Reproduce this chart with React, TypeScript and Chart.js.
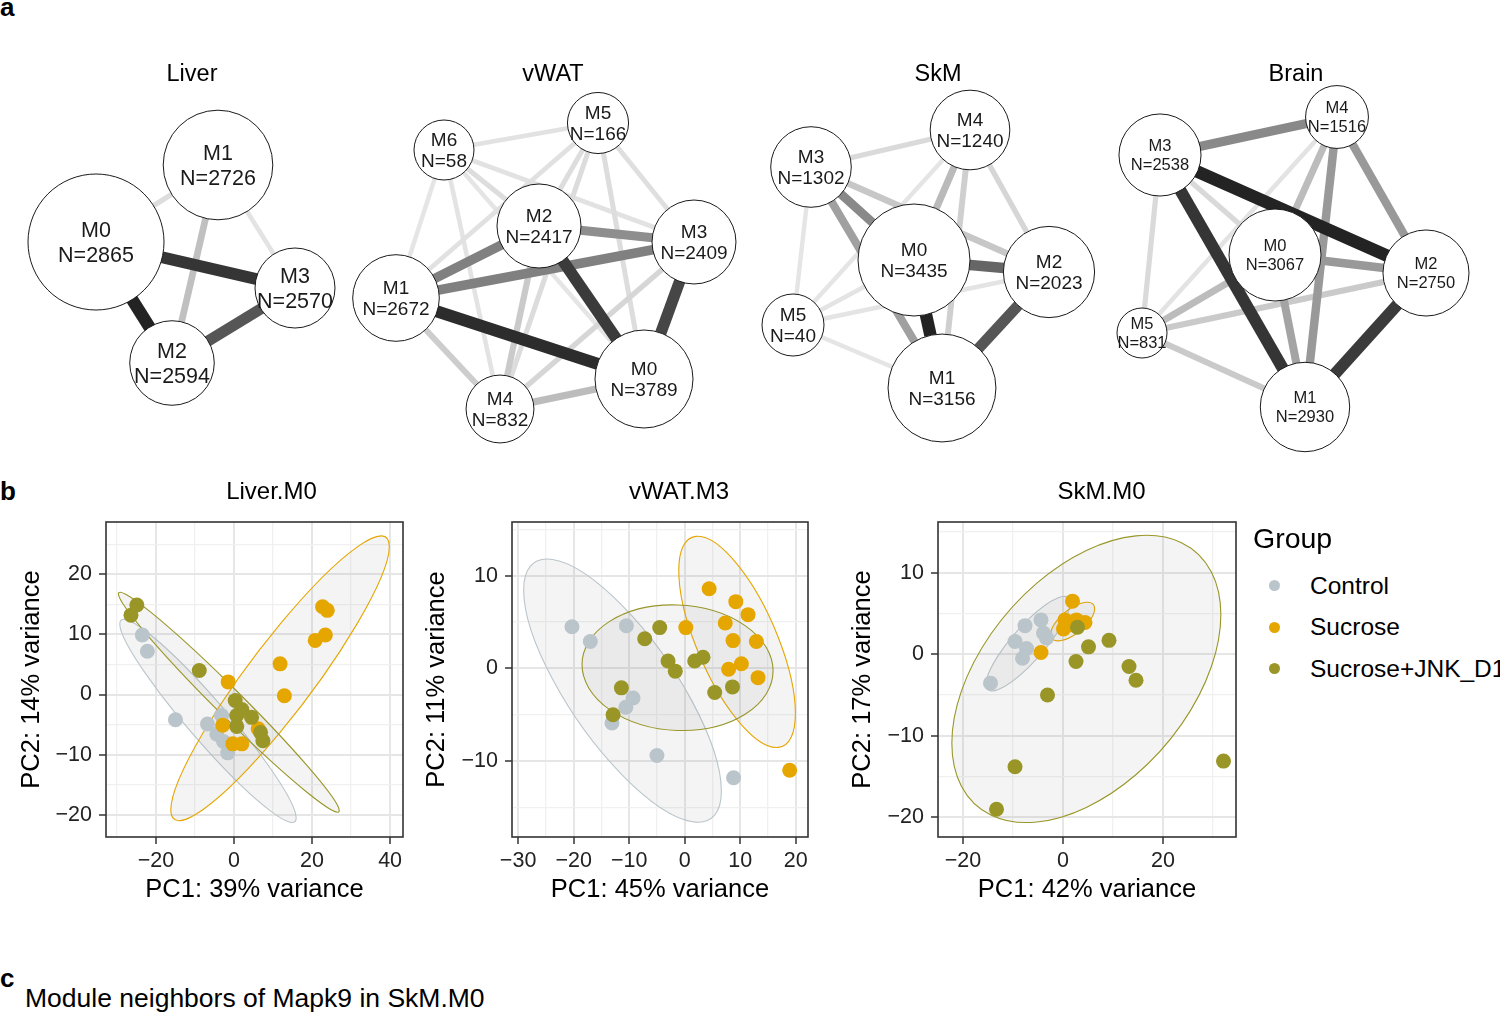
import React, { useEffect, useRef } from 'react';
import { Chart, registerables } from 'chart.js';

Chart.register(...registerables);

const FONT = "'Liberation Sans', Arial, Helvetica, sans-serif";

/* ================= Panel a : module networks ================= */
// Liver
const liverModules = ['M0', 'M1', 'M2', 'M3'];
const liverGenes = [2865, 2726, 2594, 2570];
const liverLayoutX = [-96, 26, -20, 103];
const liverLayoutY = [202, 125, 323, 248];
const liverEdgeFrom = ['M0', 'M0', 'M2', 'M1', 'M0', 'M1'];
const liverEdgeTo = ['M2', 'M3', 'M3', 'M2', 'M1', 'M3'];
const liverEdgeWeight = [1.0, 0.94, 0.82, 0.36, 0.17, 0.12];

// vWAT
const vwatModules = ['M0', 'M1', 'M2', 'M3', 'M4', 'M5', 'M6'];
const vwatGenes = [3789, 2672, 2417, 2409, 832, 166, 58];
const vwatLayoutX = [91, -157, -14, 141, -53, 45, -109];
const vwatLayoutY = [339, 258, 186, 202, 369, 83, 110];
const vwatEdgeFrom = ['M1', 'M2', 'M3', 'M1', 'M1', 'M2', 'M4', 'M1', 'M2', 'M4', 'M5', 'M5', 'M5', 'M5', 'M5', 'M6', 'M6', 'M6', 'M6', 'M6', 'M6'];
const vwatEdgeTo = ['M0', 'M0', 'M0', 'M2', 'M3', 'M3', 'M0', 'M4', 'M4', 'M3', 'M4', 'M0', 'M3', 'M2', 'M1', 'M5', 'M2', 'M3', 'M1', 'M4', 'M0'];
const vwatEdgeWeight = [0.97, 0.92, 0.88, 0.66, 0.66, 0.6, 0.38, 0.28, 0.3, 0.22, 0.18, 0.17, 0.15, 0.17, 0.14, 0.13, 0.17, 0.13, 0.1, 0.12, 0.1];

// SkM
const skmModules = ['M0', 'M1', 'M2', 'M3', 'M4', 'M5'];
const skmGenes = [3435, 3156, 2023, 1302, 1240, 40];
const skmLayoutX = [-24, 4, 111, -127, 32, -145];
const skmLayoutY = [220, 348, 232, 127, 90, 285];
const skmEdgeFrom = ['M0', 'M1', 'M0', 'M3', 'M3', 'M4', 'M3', 'M4', 'M4', 'M3', 'M5', 'M5', 'M5', 'M5', 'M5'];
const skmEdgeTo = ['M1', 'M2', 'M2', 'M0', 'M1', 'M0', 'M2', 'M1', 'M2', 'M4', 'M3', 'M4', 'M0', 'M2', 'M1'];
const skmEdgeWeight = [1.0, 0.82, 0.76, 0.62, 0.52, 0.39, 0.32, 0.27, 0.22, 0.19, 0.1, 0.1, 0.11, 0.11, 0.1];

// Brain
const brainModules = ['M0', 'M1', 'M2', 'M3', 'M4', 'M5'];
const brainGenes = [3067, 2930, 2750, 2538, 1516, 831];
const brainLayoutX = [-21, 9, 130, -136, 41, -154];
const brainLayoutY = [215, 367, 233, 115, 77, 293];
const brainEdgeFrom = ['M3', 'M3', 'M1', 'M3', 'M4', 'M4', 'M0', 'M0', 'M4', 'M5', 'M5', 'M5', 'M3', 'M3', 'M5'];
const brainEdgeTo = ['M2', 'M1', 'M2', 'M4', 'M2', 'M1', 'M2', 'M1', 'M0', 'M0', 'M2', 'M1', 'M5', 'M0', 'M4'];
const brainEdgeWeight = [1.0, 0.94, 0.92, 0.62, 0.55, 0.55, 0.55, 0.5, 0.38, 0.38, 0.3, 0.3, 0.19, 0.2, 0.12];

/* ================= Panel b : PCA ================= */
const GROUPS = ['Control', 'Sucrose', 'Sucrose+JNK_D1'];
const GROUP_COLORS = ['#bac5cb', '#e6a600', '#999627'];

// Liver.M0
const liverM0ControlPC1 = [-23.5, -22.2, -15.0, -6.8, -3.2, -4.4, -2.7, -1.6];
const liverM0ControlPC2 = [9.9, 7.2, -4.2, -4.9, -3.5, -6.6, -7.8, -9.7];
const liverM0SucrosePC1 = [22.7, 23.9, 20.8, 23.4, 11.8, 12.9, -1.5, -2.9, -0.3, 2.0, 6.2];
const liverM0SucrosePC2 = [14.6, 14.0, 9.0, 9.9, 5.1, -0.2, 2.1, -5.1, -8.2, -8.2, -5.7];
const liverM0JnkPC1 = [-24.9, -26.4, -8.9, 0.3, 2.0, 4.5, 0.7, 0.7, 6.8, 7.4];
const liverM0JnkPC2 = [14.9, 13.2, 4.0, -1.0, -2.5, -3.8, -3.5, -5.3, -6.3, -7.7];
// ellipse: [centre PC1, centre PC2, half-range PC1, half-range PC2, correlation]
const liverM0ControlEllipse = [-6.67, -4.39, 22.6, 16.9, -0.955];
const liverM0SucroseEllipse = [11.8, 2.7, 28.0, 23.7, 0.925];
const liverM0JnkEllipse = [-1.33, -1.28, 28.3, 18.3, -0.985];
const liverM0PC1Ticks = [-20, 0, 20, 40];
const liverM0PC2Ticks = [-20, -10, 0, 10, 20];

// vWAT.M3
const vwatM3ControlPC1 = [-20.3, -17.0, -10.5, -9.3, -10.6, -13.1, -5.0, 8.8];
const vwatM3ControlPC2 = [4.5, 2.9, 4.6, -3.2, -4.2, -5.9, -9.4, -11.8];
const vwatM3SucrosePC1 = [4.4, 9.2, 11.4, 7.3, 0.2, 8.7, 12.9, 10.2, 7.9, 13.2, 18.9];
const vwatM3SucrosePC2 = [8.6, 7.2, 5.8, 4.9, 4.4, 3.0, 2.9, 0.5, -0.1, -1.0, -11.0];
const vwatM3JnkPC1 = [-4.5, -7.2, -3.0, -1.7, 1.8, 3.3, 5.4, 8.6, -11.4, -12.9];
const vwatM3JnkPC2 = [4.4, 3.2, 0.8, -0.3, 0.8, 1.2, -2.6, -2.0, -2.1, -5.0];
const vwatM3ControlEllipse = [-11.2, -2.4, 17.8, 14.2, -0.765];
const vwatM3SucroseEllipse = [9.43, 2.86, 10.5, 11.4, -0.677];
const vwatM3JnkEllipse = [-1.29, 0.07, 17.2, 6.78, -0.05];
const vwatM3PC1Ticks = [-30, -20, -10, 0, 10, 20];
const vwatM3PC2Ticks = [-10, 0, 10];

// SkM.M0
const skmM0ControlPC1 = [-7.6, -4.4, -3.9, -9.6, -7.3, -8.1, -3.3, -14.5];
const skmM0ControlPC2 = [3.5, 4.2, 2.6, 1.55, 0.7, -0.5, 2.0, -3.55];
const skmM0SucrosePC1 = [1.9, 0.4, 2.7, 4.4, 0.1, 1.5, -4.4];
const skmM0SucrosePC2 = [6.5, 4.2, 4.2, 3.9, 3.1, 3.6, 0.2];
const skmM0JnkPC1 = [2.9, 5.1, 9.2, 2.6, 13.2, 14.6, -3.1, -9.6, -13.3, 32.1];
const skmM0JnkPC2 = [3.3, 0.9, 1.7, -0.9, -1.5, -3.2, -5.0, -13.8, -19.0, -13.1];
const skmM0ControlEllipse = [-7.0, 1.29, 8.4, 5.79, 0.86];
const skmM0SucroseEllipse = [1.93, 4.0, 4.4, 2.37, 0.66];
const skmM0JnkEllipse = [4.67, -3.03, 26.9, 17.6, 0.447];
const skmM0PC1Ticks = [-20, 0, 20];
const skmM0PC2Ticks = [-20, -10, 0, 10];

/* ================= Network component ================= */
type NetProps = {
  title: string; modules: string[]; genes: number[]; lx: number[]; ly: number[];
  from: string[]; to: string[]; weight: number[];
  rMin: number; rMax: number; fontSize: number; centerX: number; width: number;
};

function NetworkChart(p: NetProps) {
  const ref = useRef<HTMLCanvasElement>(null);
  useEffect(() => {
    if (!ref.current) return;
    const H = 420;
    const nMin = Math.min(...p.genes);
    const nMax = Math.max(...p.genes);
    const radius = (n: number) => p.rMin + ((p.rMax - p.rMin) * (n - nMin)) / (nMax - nMin);
    const idx = (m: string) => p.modules.indexOf(m);
    const edgeSets: any[] = p.from.map((f, i) => {
      const a = idx(f);
      const b = idx(p.to[i]);
      const w = p.weight[i];
      const g = Math.round(235 - 200 * Math.pow(w, 1.5));
      return {
        type: 'line',
        data: [{ x: p.lx[a], y: p.ly[a] }, { x: p.lx[b], y: p.ly[b] }],
        borderColor: `rgb(${g},${g},${g})`,
        borderWidth: 3.5 + 9 * w,
        pointRadius: 0,
        showLine: true,
        order: 2 + (1 - w),
        clip: false,
      };
    });
    const nodeSet: any = {
      type: 'bubble',
      data: p.modules.map((m, i) => ({ x: p.lx[i], y: p.ly[i], r: radius(p.genes[i]) })),
      backgroundColor: '#ffffff',
      borderColor: '#1a1a1a',
      borderWidth: 1,
      hoverRadius: 0,
      order: 1,
      clip: false,
    };
    const labels = {
      id: 'nodeLabels',
      afterDatasetsDraw(chart: any) {
        const { ctx, scales } = chart;
        const x = scales.x, y = scales.y;
        ctx.save();
        ctx.fillStyle = '#1a1a1a';
        ctx.textAlign = 'center';
        ctx.textBaseline = 'alphabetic';
        ctx.font = `${p.fontSize}px ${FONT}`;
        p.modules.forEach((m, i) => {
          const px = x.getPixelForValue(p.lx[i]);
          const py = y.getPixelForValue(p.ly[i]);
          ctx.fillText(m, px, py - 0.22 * p.fontSize);
          ctx.fillText('N=' + p.genes[i], px, py + 0.92 * p.fontSize);
        });
        ctx.fillStyle = '#000';
        ctx.font = `23.5px ${FONT}`;
        ctx.fillText(p.title, x.getPixelForValue(0), y.getPixelForValue(41));
        ctx.restore();
      },
    };
    const chart = new Chart(ref.current, {
      type: 'scatter',
      data: { datasets: [nodeSet, ...edgeSets] },
      options: {
        animation: false,
        responsive: false,
        events: [],
        layout: { padding: 0, autoPadding: false },
        plugins: { legend: { display: false }, tooltip: { enabled: false } },
        scales: {
          x: { type: 'linear', display: false, min: -p.width / 2, max: p.width / 2 },
          y: { type: 'linear', display: false, min: 0, max: H, reverse: true },
        },
      } as any,
      plugins: [labels],
    });
    return () => chart.destroy();
  }, []);
  return (
    <canvas
      ref={ref}
      width={p.width}
      height={420}
      style={{ position: 'absolute', left: p.centerX - p.width / 2, top: 40, width: p.width, height: 420 }}
    />
  );
}

/* ================= PCA component ================= */
type PcaProps = {
  title: string; xTitle: string; yTitle: string;
  xs: number[][]; ys: number[][]; ellipses: number[][];
  xMin: number; xMax: number; yMin: number; yMax: number;
  xMajor: number[]; yMajor: number[];
  left: number; boxLeft: number; boxRight: number; titleDx: number;
};

const fmt = (v: number) => (v < 0 ? '\u2212' + Math.abs(v) : String(v));
const isMajor = (major: number[], v: number) => major.some((m) => Math.abs(m - v) < 1e-6);
const gridValues = (min: number, max: number, major: number[]) => {
  const half = (major[1] - major[0]) / 2;
  const out: number[] = [];
  for (let v = Math.ceil(min / half) * half; v <= max + 1e-9; v += half) out.push(Math.round(v * 1000) / 1000);
  return out;
};

function PcaChart(p: PcaProps) {
  const ref = useRef<HTMLCanvasElement>(null);
  const TOP = 470;
  const HEIGHT = 437;
  const width = p.boxRight + 20 - p.left;
  useEffect(() => {
    if (!ref.current) return;
    const datasets: any[] = GROUPS.map((g, gi) => ({
      label: g,
      data: p.xs[gi].map((v, i) => ({ x: v, y: p.ys[gi][i] })),
      backgroundColor: GROUP_COLORS[gi],
      borderWidth: 0,
      pointRadius: 7.5,
      pointHoverRadius: 7.5,
      pointBorderWidth: 0,
      order: 3 - gi,
    }));
    const ellipsePlugin = {
      id: 'ellipses',
      beforeDatasetsDraw(chart: any) {
        const { ctx, scales, chartArea } = chart;
        const x = scales.x, y = scales.y;
        ctx.save();
        ctx.beginPath();
        ctx.rect(chartArea.left, chartArea.top, chartArea.right - chartArea.left, chartArea.bottom - chartArea.top);
        ctx.clip();
        p.ellipses.forEach((e, gi) => {
          const [cx, cy, hx, hy, rho] = e;
          const px = x.getPixelForValue(cx);
          const py = y.getPixelForValue(cy);
          const hxp = Math.abs(x.getPixelForValue(cx + hx) - px);
          const hyp = Math.abs(y.getPixelForValue(cy + hy) - py);
          const r = -rho;
          ctx.save();
          ctx.beginPath();
          ctx.translate(px, py);
          ctx.transform(hxp, r * hyp, 0, hyp * Math.sqrt(1 - r * r), 0, 0);
          ctx.arc(0, 0, 1, 0, Math.PI * 2);
          ctx.restore();
          ctx.fillStyle = 'rgba(128,128,128,0.09)';
          ctx.fill();
          ctx.strokeStyle = GROUP_COLORS[gi];
          ctx.lineWidth = 1.1;
          ctx.stroke();
        });
        ctx.restore();
      },
      afterDatasetsDraw(chart: any) {
        const { ctx, chartArea } = chart;
        ctx.save();
        ctx.strokeStyle = '#333333';
        ctx.lineWidth = 1.6;
        ctx.strokeRect(chartArea.left, chartArea.top, chartArea.right - chartArea.left, chartArea.bottom - chartArea.top);
        ctx.fillStyle = '#000';
        ctx.font = `24px ${FONT}`;
        ctx.textAlign = 'center';
        ctx.textBaseline = 'alphabetic';
        ctx.fillText(p.title, (chartArea.left + chartArea.right) / 2 + p.titleDx, chartArea.top - 23);
        ctx.restore();
      },
    };
    const axis = (major: number[], min: number, max: number, isX: boolean, title: string) => ({
      type: 'linear',
      min,
      max,
      afterBuildTicks: (s: any) => {
        s.ticks = gridValues(min, max, major).map((v) => ({ value: v }));
      },
      afterFit: (s: any) => {
        if (isX) s.height = 70;
        else s.width = p.boxLeft - p.left;
      },
      ticks: {
        autoSkip: false,
        maxRotation: 0,
        padding: isX ? 4 : 7,
        color: '#222',
        font: { family: FONT, size: 21.5 },
        callback: (v: number) => (isMajor(major, v) ? fmt(v) : ''),
      },
      grid: {
        color: (c: any) => (c.tick && isMajor(major, c.tick.value) ? '#e6e6e6' : '#f0f0f0'),
        lineWidth: (c: any) => (c.tick && isMajor(major, c.tick.value) ? 2 : 1.3),
        tickColor: (c: any) => (c.tick && isMajor(major, c.tick.value) ? '#333333' : 'rgba(0,0,0,0)'),
        tickWidth: 1.5,
        tickLength: 7,
        drawTicks: true,
      },
      border: { display: false },
      title: {
        display: true,
        text: title,
        color: '#000',
        font: { family: FONT, size: 25.5 },
        padding: isX ? { top: 0, bottom: 2 } : { top: 3, bottom: 0 },
      },
    });
    const chart = new Chart(ref.current, {
      type: 'scatter',
      data: { datasets },
      options: {
        animation: false,
        responsive: false,
        events: [],
        layout: { padding: { top: 52, right: 20, left: 0, bottom: 0 } },
        plugins: { legend: { display: false }, tooltip: { enabled: false } },
        scales: {
          x: axis(p.xMajor, p.xMin, p.xMax, true, p.xTitle),
          y: axis(p.yMajor, p.yMin, p.yMax, false, p.yTitle),
        },
      } as any,
      plugins: [ellipsePlugin],
    });
    return () => chart.destroy();
  }, []);
  return (
    <canvas
      ref={ref}
      width={width}
      height={HEIGHT}
      style={{ position: 'absolute', left: p.left, top: TOP, width, height: HEIGHT }}
    />
  );
}

/* ================= App ================= */
const letter = (left: number, top: number): React.CSSProperties => ({
  position: 'absolute', left, top, fontSize: 26, lineHeight: '26px', fontWeight: 'bold', color: '#000', fontFamily: FONT,
});

export default function App() {
  return (
    <div style={{ position: 'absolute', left: 0, top: 0, width: 1500, height: 1013, background: '#fff', overflow: 'hidden', fontFamily: FONT }}>
      <div style={letter(0, -6)}>a</div>
      <NetworkChart title="Liver" modules={liverModules} genes={liverGenes} lx={liverLayoutX} ly={liverLayoutY}
        from={liverEdgeFrom} to={liverEdgeTo} weight={liverEdgeWeight} rMin={40} rMax={68} fontSize={21.5} centerX={192} width={370} />
      <NetworkChart title="vWAT" modules={vwatModules} genes={vwatGenes} lx={vwatLayoutX} ly={vwatLayoutY}
        from={vwatEdgeFrom} to={vwatEdgeTo} weight={vwatEdgeWeight} rMin={30} rMax={49} fontSize={19} centerX={553} width={420} />
      <NetworkChart title="SkM" modules={skmModules} genes={skmGenes} lx={skmLayoutX} ly={skmLayoutY}
        from={skmEdgeFrom} to={skmEdgeTo} weight={skmEdgeWeight} rMin={31} rMax={56} fontSize={19} centerX={938} width={380} />
      <NetworkChart title="Brain" modules={brainModules} genes={brainGenes} lx={brainLayoutX} ly={brainLayoutY}
        from={brainEdgeFrom} to={brainEdgeTo} weight={brainEdgeWeight} rMin={25} rMax={46} fontSize={16.5} centerX={1296} width={380} />

      <div style={letter(0, 478)}>b</div>
      <PcaChart title="Liver.M0" xTitle="PC1: 39% variance" yTitle="PC2: 14% variance"
        xs={[liverM0ControlPC1, liverM0SucrosePC1, liverM0JnkPC1]} ys={[liverM0ControlPC2, liverM0SucrosePC2, liverM0JnkPC2]}
        ellipses={[liverM0ControlEllipse, liverM0SucroseEllipse, liverM0JnkEllipse]}
        xMin={-32.8} xMax={43.3} yMin={-23.7} yMax={28.7} xMajor={liverM0PC1Ticks} yMajor={liverM0PC2Ticks}
        left={14} boxLeft={106} boxRight={403} titleDx={17} />
      <PcaChart title="vWAT.M3" xTitle="PC1: 45% variance" yTitle="PC2: 11% variance"
        xs={[vwatM3ControlPC1, vwatM3SucrosePC1, vwatM3JnkPC1]} ys={[vwatM3ControlPC2, vwatM3SucrosePC2, vwatM3JnkPC2]}
        ellipses={[vwatM3ControlEllipse, vwatM3SucroseEllipse, vwatM3JnkEllipse]}
        xMin={-31.1} xMax={22.2} yMin={-18.2} yMax={15.8} xMajor={vwatM3PC1Ticks} yMajor={vwatM3PC2Ticks}
        left={419} boxLeft={512} boxRight={808} titleDx={19} />
      <PcaChart title="SkM.M0" xTitle="PC1: 42% variance" yTitle="PC2: 17% variance"
        xs={[skmM0ControlPC1, skmM0SucrosePC1, skmM0JnkPC1]} ys={[skmM0ControlPC2, skmM0SucrosePC2, skmM0JnkPC2]}
        ellipses={[skmM0ControlEllipse, skmM0SucroseEllipse, skmM0JnkEllipse]}
        xMin={-25} xMax={34.6} yMin={-22.4} yMax={16.2} xMajor={skmM0PC1Ticks} yMajor={skmM0PC2Ticks}
        left={845} boxLeft={938} boxRight={1236} titleDx={14.5} />

      <div style={{ position: 'absolute', left: 1253, top: 524, fontSize: 28.5, lineHeight: '28.5px', color: '#000', whiteSpace: 'nowrap' }}>Group</div>
      {GROUPS.map((g, i) => (
        <React.Fragment key={g}>
          <div style={{ position: 'absolute', left: 1269, top: 580 + i * 41.5, width: 11, height: 11, borderRadius: '50%', background: GROUP_COLORS[i] }} />
          <div style={{ position: 'absolute', left: 1310, top: 573.6 + i * 41.5, fontSize: 24.5, lineHeight: '24.5px', color: '#000', whiteSpace: 'nowrap' }}>{g}</div>
        </React.Fragment>
      ))}

      <div style={letter(0, 965)}>c</div>
      <div style={{ position: 'absolute', left: 25, top: 984.6, fontSize: 26.5, lineHeight: '26.5px', color: '#000', whiteSpace: 'nowrap' }}>
        Module neighbors of Mapk9 in SkM.M0
      </div>
    </div>
  );
}
